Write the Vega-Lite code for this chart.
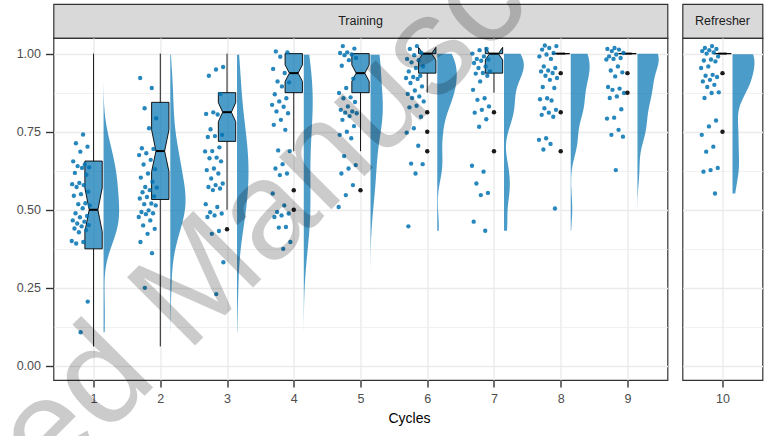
{
"$schema": "https://vega.github.io/schema/vega-lite/v6.json",
"autosize": "none",
"padding": {"left": 53.5, "top": 4, "right": 720.5, "bottom": 432},
"bounds": "flush",
"align": "each",
"columns": 2,
"spacing": {"row": 0, "column": 15},
"config": {
  "font": "Liberation Sans",
  "view": {"stroke": "#333333", "strokeWidth": 1.2},
  "axis": {"domain": false, "grid": true, "gridColor": "#ebebeb", "labelColor": "#4d4d4d", "labelFontSize": 12.5, "tickColor": "#333333", "tickWidth": 1.4, "tickSize": 7, "labelPadding": 5, "titleColor": "#000000", "titleFontSize": 14, "titleFontWeight": "normal"}
},
"datasets": {
  "pts": [
    {"cycle":1,"acc":0.741},{"cycle":1,"acc":0.713},{"cycle":1,"acc":0.702},{"cycle":1,"acc":0.686},{"cycle":1,"acc":0.655},{"cycle":1,"acc":0.645},{"cycle":1,"acc":0.640},{"cycle":1,"acc":0.636},{"cycle":1,"acc":0.634},{"cycle":1,"acc":0.618},{"cycle":1,"acc":0.612},{"cycle":1,"acc":0.586},{"cycle":1,"acc":0.582},{"cycle":1,"acc":0.579},{"cycle":1,"acc":0.573},{"cycle":1,"acc":0.558},{"cycle":1,"acc":0.550},{"cycle":1,"acc":0.545},{"cycle":1,"acc":0.521},{"cycle":1,"acc":0.518},{"cycle":1,"acc":0.514},{"cycle":1,"acc":0.505},{"cycle":1,"acc":0.489},{"cycle":1,"acc":0.480},{"cycle":1,"acc":0.476},{"cycle":1,"acc":0.466},{"cycle":1,"acc":0.462},{"cycle":1,"acc":0.456},{"cycle":1,"acc":0.451},{"cycle":1,"acc":0.447},{"cycle":1,"acc":0.440},{"cycle":1,"acc":0.435},{"cycle":1,"acc":0.428},{"cycle":1,"acc":0.400},{"cycle":1,"acc":0.397},{"cycle":1,"acc":0.392},{"cycle":1,"acc":0.206},{"cycle":1,"acc":0.108},
    {"cycle":2,"acc":0.922},{"cycle":2,"acc":0.890},{"cycle":2,"acc":0.825},{"cycle":2,"acc":0.793},{"cycle":2,"acc":0.761},{"cycle":2,"acc":0.697},{"cycle":2,"acc":0.695},{"cycle":2,"acc":0.681},{"cycle":2,"acc":0.675},{"cycle":2,"acc":0.660},{"cycle":2,"acc":0.645},{"cycle":2,"acc":0.630},{"cycle":2,"acc":0.616},{"cycle":2,"acc":0.603},{"cycle":2,"acc":0.590},{"cycle":2,"acc":0.573},{"cycle":2,"acc":0.571},{"cycle":2,"acc":0.563},{"cycle":2,"acc":0.556},{"cycle":2,"acc":0.543},{"cycle":2,"acc":0.541},{"cycle":2,"acc":0.536},{"cycle":2,"acc":0.520},{"cycle":2,"acc":0.518},{"cycle":2,"acc":0.514},{"cycle":2,"acc":0.498},{"cycle":2,"acc":0.493},{"cycle":2,"acc":0.489},{"cycle":2,"acc":0.486},{"cycle":2,"acc":0.477},{"cycle":2,"acc":0.466},{"cycle":2,"acc":0.450},{"cycle":2,"acc":0.439},{"cycle":2,"acc":0.423},{"cycle":2,"acc":0.397},{"cycle":2,"acc":0.361},{"cycle":2,"acc":0.250},
    {"cycle":3,"acc":0.957},{"cycle":3,"acc":0.949},{"cycle":3,"acc":0.929},{"cycle":3,"acc":0.871},{"cycle":3,"acc":0.812},{"cycle":3,"acc":0.807},{"cycle":3,"acc":0.805},{"cycle":3,"acc":0.758},{"cycle":3,"acc":0.740},{"cycle":3,"acc":0.736},{"cycle":3,"acc":0.733},{"cycle":3,"acc":0.700},{"cycle":3,"acc":0.688},{"cycle":3,"acc":0.687},{"cycle":3,"acc":0.667},{"cycle":3,"acc":0.665},{"cycle":3,"acc":0.655},{"cycle":3,"acc":0.632},{"cycle":3,"acc":0.627},{"cycle":3,"acc":0.616},{"cycle":3,"acc":0.600},{"cycle":3,"acc":0.584},{"cycle":3,"acc":0.579},{"cycle":3,"acc":0.573},{"cycle":3,"acc":0.568},{"cycle":3,"acc":0.563},{"cycle":3,"acc":0.518},{"cycle":3,"acc":0.509},{"cycle":3,"acc":0.492},{"cycle":3,"acc":0.488},{"cycle":3,"acc":0.482},{"cycle":3,"acc":0.477},{"cycle":3,"acc":0.432},{"cycle":3,"acc":0.423},{"cycle":3,"acc":0.332},{"cycle":3,"acc":0.230},
    {"cycle":4,"acc":1.007},{"cycle":4,"acc":1.004},{"cycle":4,"acc":0.990},{"cycle":4,"acc":0.951},{"cycle":4,"acc":0.938},{"cycle":4,"acc":0.911},{"cycle":4,"acc":0.908},{"cycle":4,"acc":0.895},{"cycle":4,"acc":0.870},{"cycle":4,"acc":0.857},{"cycle":4,"acc":0.847},{"cycle":4,"acc":0.836},{"cycle":4,"acc":0.830},{"cycle":4,"acc":0.815},{"cycle":4,"acc":0.809},{"cycle":4,"acc":0.788},{"cycle":4,"acc":0.772},{"cycle":4,"acc":0.756},{"cycle":4,"acc":0.690},{"cycle":4,"acc":0.688},{"cycle":4,"acc":0.646},{"cycle":4,"acc":0.632},{"cycle":4,"acc":0.616},{"cycle":4,"acc":0.611},{"cycle":4,"acc":0.552},{"cycle":4,"acc":0.514},{"cycle":4,"acc":0.493},{"cycle":4,"acc":0.488},{"cycle":4,"acc":0.482},{"cycle":4,"acc":0.477},{"cycle":4,"acc":0.445},{"cycle":4,"acc":0.443},{"cycle":4,"acc":0.397},{"cycle":4,"acc":0.375},
    {"cycle":5,"acc":1.024},{"cycle":5,"acc":1.016},{"cycle":5,"acc":1.004},{"cycle":5,"acc":1.002},{"cycle":5,"acc":0.997},{"cycle":5,"acc":0.995},{"cycle":5,"acc":0.986},{"cycle":5,"acc":0.979},{"cycle":5,"acc":0.961},{"cycle":5,"acc":0.920},{"cycle":5,"acc":0.890},{"cycle":5,"acc":0.874},{"cycle":5,"acc":0.860},{"cycle":5,"acc":0.857},{"cycle":5,"acc":0.845},{"cycle":5,"acc":0.831},{"cycle":5,"acc":0.820},{"cycle":5,"acc":0.815},{"cycle":5,"acc":0.811},{"cycle":5,"acc":0.809},{"cycle":5,"acc":0.800},{"cycle":5,"acc":0.788},{"cycle":5,"acc":0.768},{"cycle":5,"acc":0.750},{"cycle":5,"acc":0.740},{"cycle":5,"acc":0.729},{"cycle":5,"acc":0.672},{"cycle":5,"acc":0.643},{"cycle":5,"acc":0.632},{"cycle":5,"acc":0.616},{"cycle":5,"acc":0.579},{"cycle":5,"acc":0.547},{"cycle":5,"acc":0.509},
    {"cycle":6,"acc":1.024},{"cycle":6,"acc":1.015},{"cycle":6,"acc":1.002},{"cycle":6,"acc":0.995},{"cycle":6,"acc":0.983},{"cycle":6,"acc":0.979},{"cycle":6,"acc":0.972},{"cycle":6,"acc":0.959},{"cycle":6,"acc":0.954},{"cycle":6,"acc":0.943},{"cycle":6,"acc":0.929},{"cycle":6,"acc":0.925},{"cycle":6,"acc":0.922},{"cycle":6,"acc":0.919},{"cycle":6,"acc":0.906},{"cycle":6,"acc":0.895},{"cycle":6,"acc":0.882},{"cycle":6,"acc":0.871},{"cycle":6,"acc":0.863},{"cycle":6,"acc":0.858},{"cycle":6,"acc":0.847},{"cycle":6,"acc":0.833},{"cycle":6,"acc":0.828},{"cycle":6,"acc":0.798},{"cycle":6,"acc":0.761},{"cycle":6,"acc":0.747},{"cycle":6,"acc":0.705},{"cycle":6,"acc":0.648},{"cycle":6,"acc":0.646},{"cycle":6,"acc":0.616},{"cycle":6,"acc":0.447},
    {"cycle":7,"acc":1.015},{"cycle":7,"acc":1.011},{"cycle":7,"acc":1.000},{"cycle":7,"acc":0.991},{"cycle":7,"acc":0.983},{"cycle":7,"acc":0.981},{"cycle":7,"acc":0.977},{"cycle":7,"acc":0.970},{"cycle":7,"acc":0.959},{"cycle":7,"acc":0.954},{"cycle":7,"acc":0.943},{"cycle":7,"acc":0.938},{"cycle":7,"acc":0.936},{"cycle":7,"acc":0.929},{"cycle":7,"acc":0.911},{"cycle":7,"acc":0.884},{"cycle":7,"acc":0.857},{"cycle":7,"acc":0.852},{"cycle":7,"acc":0.831},{"cycle":7,"acc":0.820},{"cycle":7,"acc":0.811},{"cycle":7,"acc":0.790},{"cycle":7,"acc":0.766},{"cycle":7,"acc":0.641},{"cycle":7,"acc":0.622},{"cycle":7,"acc":0.584},{"cycle":7,"acc":0.554},{"cycle":7,"acc":0.547},{"cycle":7,"acc":0.462},{"cycle":7,"acc":0.433},
    {"cycle":8,"acc":1.026},{"cycle":8,"acc":1.024},{"cycle":8,"acc":1.018},{"cycle":8,"acc":1.013},{"cycle":8,"acc":1.002},{"cycle":8,"acc":0.997},{"cycle":8,"acc":0.991},{"cycle":8,"acc":0.983},{"cycle":8,"acc":0.959},{"cycle":8,"acc":0.954},{"cycle":8,"acc":0.946},{"cycle":8,"acc":0.943},{"cycle":8,"acc":0.938},{"cycle":8,"acc":0.929},{"cycle":8,"acc":0.922},{"cycle":8,"acc":0.916},{"cycle":8,"acc":0.893},{"cycle":8,"acc":0.890},{"cycle":8,"acc":0.857},{"cycle":8,"acc":0.854},{"cycle":8,"acc":0.850},{"cycle":8,"acc":0.825},{"cycle":8,"acc":0.820},{"cycle":8,"acc":0.811},{"cycle":8,"acc":0.804},{"cycle":8,"acc":0.798},{"cycle":8,"acc":0.729},{"cycle":8,"acc":0.724},{"cycle":8,"acc":0.711},{"cycle":8,"acc":0.693},{"cycle":8,"acc":0.504},
    {"cycle":9,"acc":1.018},{"cycle":9,"acc":1.015},{"cycle":9,"acc":1.013},{"cycle":9,"acc":1.008},{"cycle":9,"acc":1.002},{"cycle":9,"acc":0.997},{"cycle":9,"acc":0.991},{"cycle":9,"acc":0.986},{"cycle":9,"acc":0.983},{"cycle":9,"acc":0.981},{"cycle":9,"acc":0.959},{"cycle":9,"acc":0.946},{"cycle":9,"acc":0.940},{"cycle":9,"acc":0.927},{"cycle":9,"acc":0.893},{"cycle":9,"acc":0.888},{"cycle":9,"acc":0.884},{"cycle":9,"acc":0.874},{"cycle":9,"acc":0.863},{"cycle":9,"acc":0.858},{"cycle":9,"acc":0.822},{"cycle":9,"acc":0.795},{"cycle":9,"acc":0.792},{"cycle":9,"acc":0.756},{"cycle":9,"acc":0.740},{"cycle":9,"acc":0.734},{"cycle":9,"acc":0.627},
    {"cycle":10,"acc":1.024},{"cycle":10,"acc":1.018},{"cycle":10,"acc":1.015},{"cycle":10,"acc":1.011},{"cycle":10,"acc":1.008},{"cycle":10,"acc":1.004},{"cycle":10,"acc":1.000},{"cycle":10,"acc":0.991},{"cycle":10,"acc":0.981},{"cycle":10,"acc":0.978},{"cycle":10,"acc":0.975},{"cycle":10,"acc":0.959},{"cycle":10,"acc":0.954},{"cycle":10,"acc":0.932},{"cycle":10,"acc":0.929},{"cycle":10,"acc":0.925},{"cycle":10,"acc":0.916},{"cycle":10,"acc":0.911},{"cycle":10,"acc":0.900},{"cycle":10,"acc":0.893},{"cycle":10,"acc":0.876},{"cycle":10,"acc":0.874},{"cycle":10,"acc":0.858},{"cycle":10,"acc":0.786},{"cycle":10,"acc":0.767},{"cycle":10,"acc":0.740},{"cycle":10,"acc":0.702},{"cycle":10,"acc":0.686},{"cycle":10,"acc":0.634},{"cycle":10,"acc":0.627},{"cycle":10,"acc":0.622},{"cycle":10,"acc":0.552}
  ],
  "box": [
    {"cycle":1,"lo":0.0625,"q1":0.375,"nl":0.43,"med":0.5,"nu":0.57,"q3":0.656,"hi":1.0},
    {"cycle":2,"lo":0.0625,"q1":0.533,"nl":0.622,"med":0.688,"nu":0.756,"q3":0.844,"hi":1.0},
    {"cycle":3,"lo":0.5,"q1":0.719,"nl":0.782,"med":0.8125,"nu":0.843,"q3":0.875,"hi":1.0},
    {"cycle":4,"lo":0.6875,"q1":0.875,"nl":0.911,"med":0.9375,"nu":0.964,"q3":1.0,"hi":1.0},
    {"cycle":5,"lo":0.6875,"q1":0.875,"nl":0.911,"med":0.9375,"nu":0.964,"q3":1.0,"hi":1.0},
    {"cycle":6,"lo":0.875,"q1":0.9375,"nl":0.98,"med":1.0,"nu":1.02,"q3":1.0,"hi":1.0},
    {"cycle":7,"lo":0.875,"q1":0.9375,"nl":0.98,"med":1.0,"nu":1.02,"q3":1.0,"hi":1.0},
    {"cycle":8,"lo":1.0,"q1":1.0,"nl":1.0,"med":1.0,"nu":1.0,"q3":1.0,"hi":1.0},
    {"cycle":9,"lo":1.0,"q1":1.0,"nl":1.0,"med":1.0,"nu":1.0,"q3":1.0,"hi":1.0},
    {"cycle":10,"lo":1.0,"q1":1.0,"nl":1.0,"med":1.0,"nu":1.0,"q3":1.0,"hi":1.0}
  ],
  "out": [
    {"cycle":3,"acc":0.4375},
    {"cycle":4,"acc":0.5625},{"cycle":4,"acc":0.5},
    {"cycle":5,"acc":0.5625},
    {"cycle":6,"acc":0.8125},{"cycle":6,"acc":0.75},{"cycle":6,"acc":0.6875},
    {"cycle":7,"acc":0.8125},{"cycle":7,"acc":0.6875},
    {"cycle":8,"acc":0.9375},{"cycle":8,"acc":0.8125},{"cycle":8,"acc":0.6875},
    {"cycle":9,"acc":0.9375},{"cycle":9,"acc":0.875},
    {"cycle":10,"acc":0.9375},{"cycle":10,"acc":0.75}
  ]
},
"concat": [
    {"width": 614, "height": 34, "view": {"fill": "#d9d9d9", "stroke": "#333333", "strokeWidth": 1.2},
     "data": {"values": [{"label": "Training"}]},
     "mark": {"type": "text", "fontSize": 12.5, "color": "#1a1a1a"},
     "encoding": {"text": {"field": "label"}}},
    {"width": 80, "height": 34, "view": {"fill": "#d9d9d9", "stroke": "#333333", "strokeWidth": 1.2},
     "data": {"values": [{"label": "Refresher"}]},
     "mark": {"type": "text", "fontSize": 12.5, "color": "#1a1a1a"},
     "encoding": {"text": {"field": "label"}}},
    {"width": 614, "height": 342,
     "layer": [
      {"data": {"name": "pts"},
       "transform": [{"filter": "datum.cycle <= 5"}, {"density": "acc", "groupby": ["cycle"], "as": ["value", "density"]}, {"filter": "datum.value <= 1"}, {"calculate": "datum.cycle + 0.15", "as": "vx0"}, {"calculate": "datum.cycle + 0.15 + datum.density * 0.078", "as": "vx1"}],
       "mark": {"type": "area", "orient": "horizontal", "color": "#0072B2", "opacity": 0.7, "clip": true},
       "encoding": {
         "y": {"field": "value", "type": "quantitative", "title": null, "scale": {"domain": [-0.045, 1.05], "nice": false, "zero": false},
               "axis": {"values": [0,0.125,0.25,0.375,0.5,0.625,0.75,0.875,1], "labelExpr": "(datum.value*4) % 1 === 0 ? format(datum.value, '.2f') : ''", "gridWidth": {"condition": {"test": "(datum.value*4) % 1 === 0", "value": 1.4}, "value": 0.7}, "tickOpacity": {"condition": {"test": "(datum.value*4) % 1 === 0", "value": 1}, "value": 0}, "tickSize": 8}},
         "x": {"field": "vx0", "type": "quantitative", "title": "Cycles", "scale": {"domain": [0.4, 9.6], "nice": false, "zero": false},
               "axis": {"values": [1,2,3,4,5,6,7,8,9], "format": "d", "gridWidth": 1.4, "titleX": 355.5, "titlePadding": 7}},
         "x2": {"field": "vx1"},
         "detail": {"field": "cycle", "type": "nominal"}
       }},
      {"data": {"name": "pts"},
       "transform": [{"filter": "datum.cycle >= 6 && datum.cycle <= 9"}, {"density": "acc", "groupby": ["cycle"], "bandwidth": 0.045, "as": ["value", "density"]}, {"filter": "datum.value <= 1"}, {"calculate": "datum.cycle + 0.15", "as": "vx0"}, {"calculate": "datum.cycle + 0.15 + datum.density * 0.08", "as": "vx1"}],
       "mark": {"type": "area", "orient": "horizontal", "color": "#0072B2", "opacity": 0.7, "clip": true},
       "encoding": {
         "y": {"field": "value", "type": "quantitative", "title": null, "scale": {"domain": [-0.045, 1.05], "nice": false, "zero": false}},
         "x": {"field": "vx0", "type": "quantitative", "title": "Cycles", "scale": {"domain": [0.4, 9.6], "nice": false, "zero": false}},
         "x2": {"field": "vx1"},
         "detail": {"field": "cycle", "type": "nominal"}
       }},
      {"data": {"name": "box"},
       "transform": [{"filter": "datum.cycle <= 9"}],
       "mark": {"type": "rule", "color": "#000000", "strokeWidth": 0.9},
       "encoding": {"x": {"field": "cycle", "type": "quantitative", "title": "Cycles", "scale": {"domain": [0.4, 9.6], "nice": false, "zero": false}},
                    "y": {"field": "lo", "type": "quantitative", "title": null, "scale": {"domain": [-0.045, 1.05], "nice": false, "zero": false}},
                    "y2": {"field": "q1"}}},
      {"data": {"name": "box"},
       "transform": [{"filter": "datum.cycle <= 9"}],
       "mark": {"type": "rule", "color": "#000000", "strokeWidth": 0.9},
       "encoding": {"x": {"field": "cycle", "type": "quantitative", "title": "Cycles", "scale": {"domain": [0.4, 9.6], "nice": false, "zero": false}},
                    "y": {"field": "q3", "type": "quantitative", "title": null, "scale": {"domain": [-0.045, 1.05], "nice": false, "zero": false}},
                    "y2": {"field": "hi"}}},
      {"data": {"name": "box"},
       "transform": [{"filter": "datum.cycle <= 9"}, {"fold": ["q3","nu","med","nl","q1"], "as": ["stat","v"]}, {"calculate": "[-1, 1]", "as": "sides"}, {"flatten": ["sides"], "as": ["side"]}, {"calculate": "indexof(['q3','nu','med','nl','q1'], datum.stat)", "as": "k"}, {"calculate": "datum.side < 0 ? datum.k : 9 - datum.k", "as": "ord"}, {"calculate": "datum.cycle + datum.side * (datum.stat === 'med' ? 0.065 : 0.13)", "as": "bx"}],
       "mark": {"type": "line", "fill": "#0072B2", "fillOpacity": 0.7, "stroke": "#000000", "strokeWidth": 0.9, "strokeJoin": "miter"},
       "encoding": {"x": {"field": "bx", "type": "quantitative", "title": "Cycles", "scale": {"domain": [0.4, 9.6], "nice": false, "zero": false}},
                    "y": {"field": "v", "type": "quantitative", "title": null, "scale": {"domain": [-0.045, 1.05], "nice": false, "zero": false}},
                    "order": {"field": "ord", "type": "quantitative"},
                    "detail": {"field": "cycle", "type": "nominal"}}},
      {"data": {"name": "box"},
       "transform": [{"filter": "datum.cycle <= 9"}, {"calculate": "datum.cycle - 0.13", "as": "tx0"}, {"calculate": "datum.cycle + 0.13", "as": "tx1"}],
       "mark": {"type": "rule", "color": "#000000", "strokeWidth": 0.9},
       "encoding": {"x": {"field": "tx0", "type": "quantitative", "title": "Cycles", "scale": {"domain": [0.4, 9.6], "nice": false, "zero": false}},
                    "x2": {"field": "tx1"},
                    "y": {"field": "q3", "type": "quantitative", "title": null, "scale": {"domain": [-0.045, 1.05], "nice": false, "zero": false}}}},
      {"data": {"name": "box"},
       "transform": [{"filter": "datum.cycle <= 9"}, {"calculate": "datum.cycle - 0.065", "as": "mx0"}, {"calculate": "datum.cycle + 0.065", "as": "mx1"}],
       "mark": {"type": "rule", "color": "#000000", "strokeWidth": 2},
       "encoding": {"x": {"field": "mx0", "type": "quantitative", "title": "Cycles", "scale": {"domain": [0.4, 9.6], "nice": false, "zero": false}},
                    "x2": {"field": "mx1"},
                    "y": {"field": "med", "type": "quantitative", "title": null, "scale": {"domain": [-0.045, 1.05], "nice": false, "zero": false}}}},
      {"data": {"name": "pts"},
       "transform": [{"filter": "datum.cycle <= 9"}, {"window": [{"op": "row_number", "as": "rn"}]}, {"calculate": "datum.cycle - 0.19 + ((datum.rn * 0.618034) % 1 - 0.5) * 0.28", "as": "jx"}],
       "mark": {"type": "circle", "size": 19, "color": "#0072B2", "opacity": 0.85},
       "encoding": {"x": {"field": "jx", "type": "quantitative", "title": "Cycles", "scale": {"domain": [0.4, 9.6], "nice": false, "zero": false}},
                    "y": {"field": "acc", "type": "quantitative", "title": null, "scale": {"domain": [-0.045, 1.05], "nice": false, "zero": false}}}},
      {"data": {"name": "out"},
       "transform": [{"filter": "datum.cycle <= 9"}],
       "mark": {"type": "circle", "size": 20, "color": "#1a1a1a", "opacity": 1},
       "encoding": {"x": {"field": "cycle", "type": "quantitative", "title": "Cycles", "scale": {"domain": [0.4, 9.6], "nice": false, "zero": false}},
                    "y": {"field": "acc", "type": "quantitative", "title": null, "scale": {"domain": [-0.045, 1.05], "nice": false, "zero": false}}}},
      {"data": {"values": [{"label": "Accepted Manuscript"}]},
       "mark": {"type": "text", "angle": -45, "fontSize": 140, "fontWeight": "normal", "align": "center", "baseline": "alphabetic", "color": "#000000", "opacity": 0.2},
       "encoding": {"text": {"field": "label"},
                    "x": {"datum": 2.73, "type": "quantitative", "title": "Cycles", "scale": {"domain": [0.4, 9.6], "nice": false, "zero": false}},
                    "y": {"datum": 0.11, "type": "quantitative", "title": null, "scale": {"domain": [-0.045, 1.05], "nice": false, "zero": false}}}}
     ]},
    {"width": 80, "height": 342,
     "layer": [
      {"data": {"name": "pts"},
       "transform": [{"filter": "datum.cycle == 10"}, {"density": "acc", "groupby": ["cycle"], "bandwidth": 0.045, "as": ["value", "density"]}, {"filter": "datum.value <= 1"}, {"calculate": "datum.cycle + 0.15", "as": "vx0"}, {"calculate": "datum.cycle + 0.15 + datum.density * 0.085", "as": "vx1"}],
       "mark": {"type": "area", "orient": "horizontal", "color": "#0072B2", "opacity": 0.7, "clip": true},
       "encoding": {
         "y": {"field": "value", "type": "quantitative", "title": null, "scale": {"domain": [-0.045, 1.05], "nice": false, "zero": false},
               "axis": {"values": [0,0.125,0.25,0.375,0.5,0.625,0.75,0.875,1], "labels": false, "ticks": false, "gridWidth": {"condition": {"test": "(datum.value*4) % 1 === 0", "value": 1.4}, "value": 0.7}}},
         "x": {"field": "vx0", "type": "quantitative", "title": null, "scale": {"domain": [9.4, 10.6], "nice": false, "zero": false},
               "axis": {"values": [10], "format": "d", "gridWidth": 1.4}},
         "x2": {"field": "vx1"},
         "detail": {"field": "cycle", "type": "nominal"}
       }},
      {"data": {"name": "box"},
       "transform": [{"filter": "datum.cycle == 10"}, {"fold": ["q3","nu","med","nl","q1"], "as": ["stat","v"]}, {"calculate": "[-1, 1]", "as": "sides"}, {"flatten": ["sides"], "as": ["side"]}, {"calculate": "indexof(['q3','nu','med','nl','q1'], datum.stat)", "as": "k"}, {"calculate": "datum.side < 0 ? datum.k : 9 - datum.k", "as": "ord"}, {"calculate": "datum.cycle + datum.side * (datum.stat === 'med' ? 0.065 : 0.13)", "as": "bx"}],
       "mark": {"type": "line", "fill": "#0072B2", "fillOpacity": 0.7, "stroke": "#000000", "strokeWidth": 0.9},
       "encoding": {"x": {"field": "bx", "type": "quantitative", "title": null, "scale": {"domain": [9.4, 10.6], "nice": false, "zero": false}},
                    "y": {"field": "v", "type": "quantitative", "title": null, "scale": {"domain": [-0.045, 1.05], "nice": false, "zero": false}},
                    "order": {"field": "ord", "type": "quantitative"},
                    "detail": {"field": "cycle", "type": "nominal"}}},
      {"data": {"name": "box"},
       "transform": [{"filter": "datum.cycle == 10"}, {"calculate": "datum.cycle - 0.065", "as": "mx0"}, {"calculate": "datum.cycle + 0.065", "as": "mx1"}],
       "mark": {"type": "rule", "color": "#000000", "strokeWidth": 2},
       "encoding": {"x": {"field": "mx0", "type": "quantitative", "title": null, "scale": {"domain": [9.4, 10.6], "nice": false, "zero": false}},
                    "x2": {"field": "mx1"},
                    "y": {"field": "med", "type": "quantitative", "title": null, "scale": {"domain": [-0.045, 1.05], "nice": false, "zero": false}}}},
      {"data": {"name": "pts"},
       "transform": [{"filter": "datum.cycle == 10"}, {"window": [{"op": "row_number", "as": "rn"}]}, {"calculate": "datum.cycle - 0.19 + ((datum.rn * 0.618034) % 1 - 0.5) * 0.28", "as": "jx"}],
       "mark": {"type": "circle", "size": 19, "color": "#0072B2", "opacity": 0.85},
       "encoding": {"x": {"field": "jx", "type": "quantitative", "title": null, "scale": {"domain": [9.4, 10.6], "nice": false, "zero": false}},
                    "y": {"field": "acc", "type": "quantitative", "title": null, "scale": {"domain": [-0.045, 1.05], "nice": false, "zero": false}}}},
      {"data": {"name": "out"},
       "transform": [{"filter": "datum.cycle == 10"}],
       "mark": {"type": "circle", "size": 20, "color": "#1a1a1a", "opacity": 1},
       "encoding": {"x": {"field": "cycle", "type": "quantitative", "title": null, "scale": {"domain": [9.4, 10.6], "nice": false, "zero": false}},
                    "y": {"field": "acc", "type": "quantitative", "title": null, "scale": {"domain": [-0.045, 1.05], "nice": false, "zero": false}}}}
     ]}
]
}
